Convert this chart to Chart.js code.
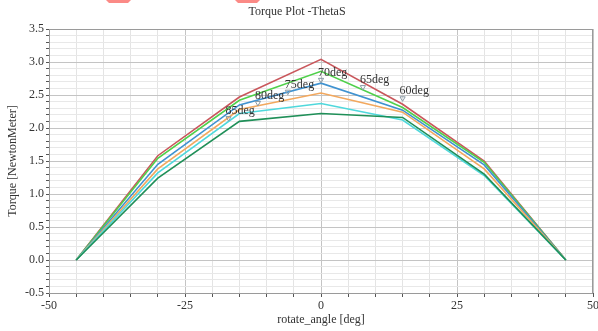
<!DOCTYPE html>
<html>
<head>
<meta charset="utf-8">
<script src="https://cdn.jsdelivr.net/npm/chart.js@4/dist/chart.umd.min.js"></script>
<style>
  html, body { margin: 0; padding: 0; background: #fff; }
  #wrap { width: 598px; height: 331px; position: relative; }
</style>
</head>
<body>
<div id="wrap"><canvas id="torqueChart"></canvas></div>
<script>
// ===== DATA =====
const angles = [-45, -30, -15, 0, 15, 30, 45];
const seriesNames = ['60deg', '65deg', '70deg', '75deg', '80deg', '85deg'];
const torque60 = [0, 1.58, 2.47, 3.04, 2.36, 1.50, 0];
const torque65 = [0, 1.54, 2.42, 2.86, 2.31, 1.48, 0];
const torque70 = [0, 1.45, 2.35, 2.68, 2.27, 1.44, 0];
const torque75 = [0, 1.38, 2.28, 2.53, 2.24, 1.38, 0];
const torque80 = [0, 1.32, 2.22, 2.37, 2.12, 1.28, 0];
const torque85 = [0, 1.24, 2.10, 2.22, 2.16, 1.30, 0];
const seriesColors = ['#c9575c', '#4fd04a', '#3f92d0', '#f2a85e', '#4fd8dc', '#1f8f58'];

// marker annotations
const markerX = [-17, -11.6, -6.1, 0, 7.7, 15];
const markerY = [2.15, 2.38, 2.55, 2.73, 2.62, 2.45];
const markerLabels = ['85deg', '80deg', '75deg', '70deg', '65deg', '60deg'];

const xTicks = [-50, -25, 0, 25, 50];
const yTicks = [-0.5, 0.0, 0.5, 1.0, 1.5, 2.0, 2.5, 3.0, 3.5];

const serif = '"Liberation Serif", "DejaVu Serif", serif';
const allSeries = [torque60, torque65, torque70, torque75, torque80, torque85];

const isMajor = (v, step) => Math.abs(v / step - Math.round(v / step)) < 1e-6;

const datasets = allSeries.map((vals, i) => ({
  label: seriesNames[i],
  data: angles.map((a, j) => ({ x: a, y: vals[j] })),
  borderColor: seriesColors[i],
  backgroundColor: seriesColors[i],
  borderWidth: 1.6,
  pointRadius: 0,
  tension: 0,
  order: 6 - i
}));

datasets.push({
  label: 'markers',
  data: markerX.map((x, i) => ({ x: x, y: markerY[i] })),
  showLine: false,
  pointStyle: 'triangle',
  rotation: 180,
  pointRadius: 3,
  borderColor: '#8a9aa6',
  backgroundColor: 'rgba(255,255,255,0)',
  borderWidth: 1,
  order: -1
});

// ===== PLUGINS =====
const frameAndLabels = {
  id: 'frameAndLabels',
  afterDatasetsDraw(chart) {
    const { ctx, chartArea: a, scales } = chart;
    ctx.save();
    ctx.strokeStyle = '#9a9a9a';
    ctx.lineWidth = 1;
    ctx.strokeRect(a.left + 0.5, a.top + 0.5, a.right - a.left - 1, a.bottom - a.top);
    ctx.font = '12px ' + serif;
    ctx.fillStyle = '#333';
    ctx.textBaseline = 'middle';
    ctx.textAlign = 'left';
    markerLabels.forEach((t, i) => {
      const px = scales.x.getPixelForValue(markerX[i]);
      const py = scales.y.getPixelForValue(markerY[i]);
      ctx.fillText(t, px - 3, py - 7);
    });
    ctx.restore();
  },
  afterDraw(chart) {
    // pink blobs at the top edge of the picture
    const ctx = chart.ctx;
    ctx.save();
    ctx.fillStyle = '#fb8a86';
    [[106, 131], [235, 260]].forEach(([l, r]) => {
      ctx.beginPath();
      ctx.moveTo(l, 0);
      ctx.lineTo(r, 0);
      ctx.lineTo(r - 3, 3);
      ctx.lineTo(l + 3, 3);
      ctx.closePath();
      ctx.fill();
    });
    ctx.restore();
  }
};

// ===== CHART =====
new Chart(document.getElementById('torqueChart'), {
  type: 'line',
  data: { datasets },
  plugins: [frameAndLabels],
  options: {
    responsive: true,
    maintainAspectRatio: false,
    animation: false,
    layout: { padding: { left: 0, right: 4, top: 0, bottom: 0 } },
    plugins: {
      legend: { display: false },
      tooltip: { enabled: false },
      title: {
        display: true,
        text: 'Torque Plot -ThetaS',
        color: '#333',
        font: { family: serif, size: 12, weight: 'normal' },
        padding: { top: 5, bottom: 9.6 }
      }
    },
    scales: {
      x: {
        type: 'linear',
        min: -50,
        max: 50,
        afterFit: s => { s.height = 38; s.paddingRight = 0; s.paddingLeft = 0; },
        afterBuildTicks: s => {
          const t = [];
          for (let v = -50; v <= 50; v += 5) t.push({ value: v });
          s.ticks = t;
        },
        ticks: {
          autoSkip: false,
          maxRotation: 0,
          padding: 2,
          color: '#333',
          font: { family: serif, size: 12 },
          callback: v => xTicks.includes(v) ? String(v) : ''
        },
        grid: {
          color: ctx => isMajor(ctx.tick.value, 25) ? '#c4c4c4' : '#e4e4e4',
          tickColor: '#555',
          tickLength: 4
        },
        border: { color: '#555', width: 1 },
        title: {
          display: true,
          text: 'rotate_angle [deg]',
          color: '#333',
          font: { family: serif, size: 12 },
          padding: { top: 0, bottom: 4 }
        }
      },
      y: {
        type: 'linear',
        min: -0.5,
        max: 3.5,
        afterFit: s => { s.width = 49; },
        afterBuildTicks: s => {
          const t = [];
          for (let k = -5; k <= 35; k++) t.push({ value: k / 10 });
          s.ticks = t;
        },
        ticks: {
          autoSkip: false,
          padding: 2,
          color: '#333',
          font: { family: serif, size: 12 },
          callback: v => yTicks.some(y => Math.abs(y - v) < 1e-6) ? v.toFixed(1) : ''
        },
        grid: {
          color: ctx => isMajor(ctx.tick.value, 0.5) ? '#c4c4c4' : '#e8e8e8',
          tickColor: '#555',
          tickLength: 3
        },
        border: { color: '#555', width: 1 },
        title: {
          display: true,
          text: 'Torque [NewtonMeter]',
          color: '#333',
          font: { family: serif, size: 12 },
          padding: { top: 6, bottom: 0 }
        }
      }
    }
  }
});
</script>
</body>
</html>
